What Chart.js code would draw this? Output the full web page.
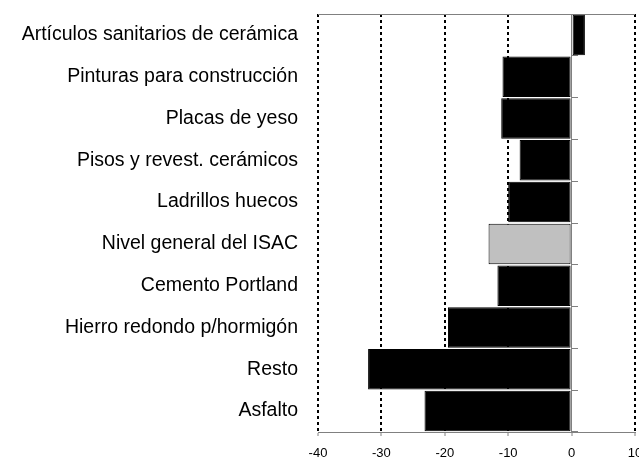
<!DOCTYPE html>
<html>
<head>
<meta charset="utf-8">
<script src="https://cdn.jsdelivr.net/npm/chart.js@4"></script>
<style>
  body { margin: 0; background: #fff; }
  canvas { display: block; }
</style>
</head>
<body>
<canvas id="chart" width="639" height="459"></canvas>
<script>
// Chart data
const categories = [
    'Artículos sanitarios de cerámica',
    'Pinturas para construcción',
    'Placas de yeso',
    'Pisos y revest. cerámicos',
    'Ladrillos huecos',
    'Nivel general del ISAC',
    'Cemento Portland',
    'Hierro redondo p/hormigón',
    'Resto',
    'Asfalto'
];
const values = [2.1, -10.9, -11.1, -8.2, -10.0, -13.1, -11.7, -19.5, -32.1, -23.2];
const xTicks = [-40, -30, -20, -10, 0, 10];
const highlighted = 'Nivel general del ISAC';

const FONT = 'Liberation Sans, Arial, sans-serif';

// keep axes from pushing the plot area around
function noPadding(s) {
    s.paddingLeft = 0;
    s.paddingRight = 0;
    s.paddingTop = 0;
    s.paddingBottom = 0;
}

// thin grey line along the top of the plot area
const topFrame = {
    id: 'topFrame',
    beforeDatasetsDraw(chart) {
        const { ctx, chartArea } = chart;
        const y = Math.round(chartArea.top) + 0.5;
        ctx.save();
        ctx.strokeStyle = '#808080';
        ctx.lineWidth = 1;
        ctx.beginPath();
        ctx.moveTo(chartArea.left, y);
        ctx.lineTo(chartArea.right, y);
        ctx.stroke();
        ctx.restore();
    }
};

document.addEventListener('DOMContentLoaded', () => {
    const ctx = document.getElementById('chart');

    new Chart(ctx, {
        type: 'bar',
        data: {
            labels: categories,
            datasets: [{
                data: values,
                backgroundColor: c => categories[c.dataIndex] === highlighted ? '#c0c0c0' : '#000000',
                borderColor: '#000000',
                borderWidth: 1,
                borderSkipped: false,
                barPercentage: 0.97,
                categoryPercentage: 1.0,
                yAxisID: 'y'
            }]
        },
        plugins: [topFrame],
        options: {
            indexAxis: 'y',
            responsive: false,
            devicePixelRatio: 1,
            animation: false,
            layout: { padding: { top: 14, right: 4, bottom: 0, left: 0 } },
            plugins: {
                legend: { display: false },
                tooltip: { enabled: false }
            },
            scales: {
                x: {
                    type: 'linear',
                    position: 'bottom',
                    min: xTicks[0],
                    max: xTicks[xTicks.length - 1],
                    afterBuildTicks: s => { s.ticks = xTicks.map(v => ({ value: v })); },
                    afterFit: s => { s.height = 27; noPadding(s); },
                    grid: {
                        color: c => c.tick && c.tick.value === 0 ? 'rgba(0,0,0,0)' : '#000000',
                        lineWidth: 2,
                        tickColor: '#808080',
                        tickWidth: 1,
                        tickLength: 4
                    },
                    border: { display: true, color: '#808080', width: 1, dash: [3, 3] },
                    ticks: {
                        padding: 10,
                        maxRotation: 0,
                        color: '#000000',
                        font: { family: FONT, size: 13 }
                    }
                },
                y: {
                    type: 'category',
                    position: 'left',
                    afterFit: s => { s.width = 318; noPadding(s); },
                    grid: { display: false, drawTicks: false },
                    border: { display: false },
                    ticks: {
                        padding: 20,
                        color: '#000000',
                        font: { family: FONT, size: 19.5 }
                    }
                },
                // axis line and small marks at zero
                yZero: {
                    type: 'category',
                    position: { x: 0 },
                    offset: true,
                    afterFit: s => { s.width = 0; noPadding(s); },
                    grid: {
                        offset: true,
                        drawOnChartArea: false,
                        drawTicks: true,
                        tickLength: -7,
                        tickColor: '#808080',
                        tickWidth: 1
                    },
                    border: { display: true, color: '#808080', width: 1 },
                    ticks: { display: false }
                }
            }
        }
    });
});
</script>
</body>
</html>
